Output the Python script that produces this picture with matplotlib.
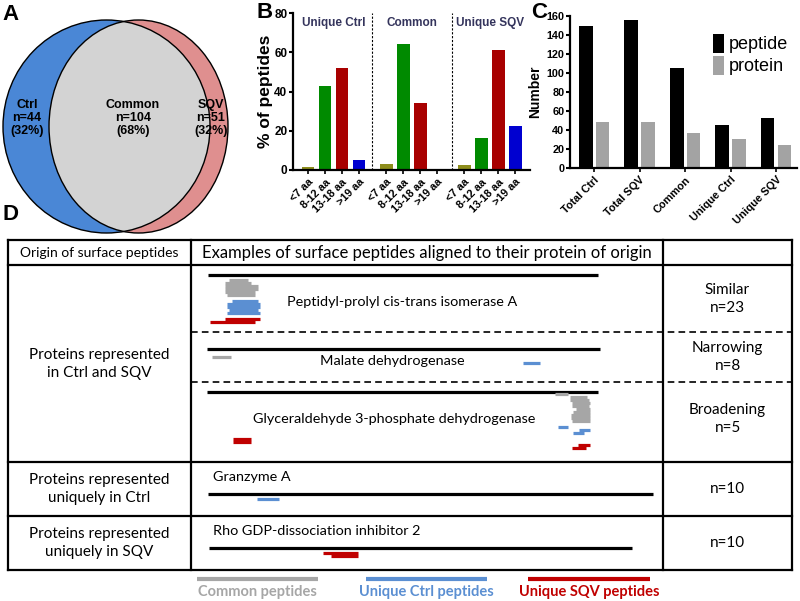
import matplotlib
matplotlib.use("Agg")
import matplotlib.pyplot as plt
from matplotlib.patches import Ellipse

plt.rcParams["font.family"] = ["Liberation Sans", "DejaVu Sans"]

W, H = 800, 601

# ---- panel A: Venn of proteins
venn_names = ["Ctrl", "Common", "SQV"]
venn_n = [44, 104, 51]
venn_pct = [32, 68, 32]

# ---- panel B: peptide length distribution (% of peptides)
len_classes = ["<7 aa", "8-12 aa", "13-18 aa", ">19 aa"]
b_groups = ["Unique Ctrl", "Common", "Unique SQV"]
pct_unique_ctrl = [1.7, 42.9, 52.2, 5.1]
pct_common = [2.9, 64.1, 34.3, 0.0]
pct_unique_sqv = [2.5, 16.5, 61.3, 22.4]

# ---- panel C: counts
c_categories = ["Total Ctrl", "Total SQV", "Common", "Unique Ctrl", "Unique SQV"]
n_peptide = [149, 156, 105, 45, 52]
n_protein = [48, 48, 37, 30, 24]

# ---- panel D: peptides aligned on proteins (start, end residue, stack row)
proteins = ["Peptidyl-prolyl cis-trans isomerase A", "Malate dehydrogenase",
            "Glyceraldehyde 3-phosphate dehydrogenase", "Granzyme A",
            "Rho GDP-dissociation inhibitor 2"]
protein_len = [165, 338, 335, 262, 201]
pep_ppia = [("common", 9, 17, 0), ("common", 7, 18, 1), ("common", 7, 21, 2),
            ("common", 7, 21, 3), ("common", 7, 20, 4), ("common", 8, 20, 5),
            ("ctrl", 10, 21, 7), ("ctrl", 8, 22, 8), ("ctrl", 8, 22, 9),
            ("ctrl", 9, 21, 10), ("ctrl", 8, 22, 11),
            ("sqv", 7, 22, 13), ("sqv", 1, 20, 14)]
pep_mdh = [("common", 4, 21, 1), ("ctrl", 272, 286, 3)]
pep_gapdh = [("common", 298, 309, -1), ("common", 311, 326, 0), ("common", 311, 327, 1),
             ("common", 313, 328, 2), ("common", 313, 327, 3), ("common", 316, 328, 4),
             ("common", 314, 328, 5), ("common", 312, 328, 6), ("common", 312, 328, 7),
             ("common", 313, 328, 8),
             ("ctrl", 301, 309, 10), ("ctrl", 319, 328, 11), ("ctrl", 314, 323, 12),
             ("sqv", 22, 38, 14), ("sqv", 22, 38, 15),
             ("sqv", 318, 328, 16), ("sqv", 313, 325, 17)]
pep_gzma = [("ctrl", 29, 42, 0)]
pep_gdi2 = [("sqv", 54, 71, 0), ("sqv", 58, 71, 1)]
peptides = [pep_ppia, pep_mdh, pep_gapdh, pep_gzma, pep_gdi2]
pep_colors = {"common": "#a6a6a6", "ctrl": "#5b8fd2", "sqv": "#c00000"}


def fig_rect(x0, y0, x1, y1):
    # pixel box (top-left origin) -> figure fraction
    return [x0 / W, 1 - y1 / H, (x1 - x0) / W, (y1 - y0) / H]


fig = plt.figure(figsize=(W / 100, H / 100), dpi=100)

# background axes in pixel coordinates, for A and D
bg = fig.add_axes([0, 0, 1, 1])
bg.set_xlim(0, W)
bg.set_ylim(H, 0)
bg.axis("off")

for lab, x, y in [("A", 2, 14), ("B", 257, 13), ("C", 531, 12), ("D", 2, 214)]:
    bg.text(x, y, lab, fontsize=16, fontweight="bold", va="center", ha="left")

# ---- A
blue = Ellipse((106.5, 126.5), 207, 213, facecolor="#4a87d6", edgecolor="none")
pink = Ellipse((138.5, 126.5), 179, 213, facecolor="#df8f8f", edgecolor="none")
bg.add_patch(blue)
bg.add_patch(pink)
inter = Ellipse((138.5, 126.5), 179, 213, facecolor="#d3d3d3", edgecolor="none")
bg.add_patch(inter)
inter.set_clip_path(blue)
for e in [Ellipse((106.5, 126.5), 207, 213), Ellipse((138.5, 126.5), 179, 213)]:
    e.set_facecolor("none")
    e.set_edgecolor("black")
    e.set_linewidth(1.0)
    bg.add_patch(e)
for name, n, p, x in zip(venn_names, venn_n, venn_pct, [27, 133, 211]):
    bg.text(x, 118, f"{name}\nn={n}\n({p}%)", ha="center", va="center",
            fontsize=9, fontweight="bold", linespacing=1.1)

# ---- B
axb = fig.add_axes(fig_rect(293, 13.3, 530, 170))
axb.patch.set_alpha(0)
b_colors = ["#8e8e1c", "#008a00", "#a80000", "#0000d0"]
starts = [0, 4.6, 9.2]
series = [pct_unique_ctrl, pct_common, pct_unique_sqv]
ticks, tlabels = [], []
for s, vals in zip(starts, series):
    xs = [s + i for i in range(len(vals))]
    axb.bar(xs, vals, width=0.76, color=b_colors)
    ticks += xs
    tlabels += len_classes
for xd in [3.75, 8.45]:
    axb.axvline(xd, color="black", ls=(0, (2, 1.5)), lw=0.8)
for s, g in zip(starts, b_groups):
    axb.text(s + 1.5, 75, g, ha="center", va="center", fontsize=8.5,
             fontweight="bold", color="#34345c")
axb.set_xlim(-0.88, 13.06)
axb.set_ylim(0, 80)
axb.set_yticks([0, 20, 40, 60, 80])
axb.set_xticks(ticks)
axb.set_xticklabels(tlabels, rotation=45, ha="right", rotation_mode="anchor",
                    fontsize=7.8, fontweight="bold")
for t in axb.get_yticklabels():
    t.set_fontweight("bold")
axb.tick_params(axis="y", labelsize=8.5, width=1.5, length=3, pad=1)
axb.tick_params(axis="x", width=1.2, length=3, pad=2)
axb.set_ylabel("% of peptides", fontsize=12.5, fontweight="bold", labelpad=1)
for sp in ["top", "right"]:
    axb.spines[sp].set_visible(False)
for sp in ["left", "bottom"]:
    axb.spines[sp].set_linewidth(1.6)

# ---- C
axc = fig.add_axes(fig_rect(570, 15.7, 797, 167.7))
axc.patch.set_alpha(0)
xc = list(range(len(c_categories)))
bp = axc.bar([x - 0.185 for x in xc], n_peptide, width=0.30, color="black")
bq = axc.bar([x + 0.185 for x in xc], n_protein, width=0.30, color="#a3a3a3")
axc.set_xlim(-0.53, 4.46)
axc.set_ylim(0, 160)
axc.set_yticks(range(0, 161, 20))
axc.set_xticks(xc)
axc.set_xticklabels(c_categories, rotation=45, ha="right", rotation_mode="anchor",
                    fontsize=7.8, fontweight="bold")
for t in axc.get_yticklabels():
    t.set_fontweight("bold")
axc.tick_params(axis="y", labelsize=7.8, width=1.5, length=3, pad=1)
axc.tick_params(axis="x", width=1.2, length=3, pad=2)
axc.set_ylabel("Number", fontsize=10, fontweight="bold", labelpad=3)
for sp in ["top", "right"]:
    axc.spines[sp].set_visible(False)
for sp in ["left", "bottom"]:
    axc.spines[sp].set_linewidth(1.6)
axc.legend([bp, bq], ["peptide", "protein"], loc="upper left",
           bbox_to_anchor=(713 / W, 1 - 34 / H), bbox_transform=fig.transFigure,
           frameon=False, fontsize=13, handlelength=0.62, handleheight=1.2,
           handletextpad=0.25, labelspacing=0.15, borderpad=0, borderaxespad=0)

# ---- D table
tf = ["Lato", "DejaVu Sans"]
lw_t = 1.6
L, R, C1, C2 = 8, 792, 191, 663
rows_y = [240, 265, 462, 516, 570]
for y in rows_y:
    bg.plot([L, R], [y, y], color="black", lw=lw_t, solid_capstyle="projecting")
for x in [L, C1, C2, R]:
    bg.plot([x, x], [rows_y[0], rows_y[-1]], color="black", lw=lw_t,
            solid_capstyle="projecting")
for y in [332, 382]:
    bg.plot([C1, R], [y, y], color="black", lw=1.2, ls=(0, (4, 2.5)))

bg.text((L + C1) / 2, 253, "Origin of surface peptides", ha="center", va="center",
        fontsize=10, family=tf)
bg.text((C1 + C2) / 2, 253, "Examples of surface peptides aligned to their protein of origin",
        ha="center", va="center", fontsize=12, family=tf)
for txt, y in [("Proteins represented\nin Ctrl and SQV", 364),
               ("Proteins represented\nuniquely in Ctrl", 489),
               ("Proteins represented\nuniquely in SQV", 543)]:
    bg.text((L + C1) / 2, y, txt, ha="center", va="center", fontsize=11,
            family=tf, linespacing=1.3)
for txt, y in [("Similar\nn=23", 299), ("Narrowing\nn=8", 357),
               ("Broadening\nn=5", 419), ("n=10", 489), ("n=10", 543)]:
    bg.text((C2 + R) / 2, y, txt, ha="center", va="center", fontsize=11,
            family=tf, linespacing=1.45)

# protein lines: x0, x1, y, and label position
line_x0 = [208, 207, 207, 208, 209]
line_x1 = [598, 600, 598, 653, 632]
line_y = [275, 349, 392, 494, 548]
name_xy = [(287, 302), (320, 361), (253, 419), (213, 477), (213, 531)]
for i, name in enumerate(proteins):
    x0, x1, y = line_x0[i], line_x1[i], line_y[i]
    bg.plot([x0, x1], [y, y], color="black", lw=2.3, solid_capstyle="butt")
    bg.text(name_xy[i][0], name_xy[i][1], name, ha="left", va="center",
            fontsize=10.4, family=tf)
    scale = (x1 - x0) / protein_len[i]
    base = y + 5
    for kind, s, e, r in peptides[i]:
        yy = base + 3 * r
        bg.plot([x0 + s * scale, x0 + e * scale], [yy, yy],
                color=pep_colors[kind], lw=2.3, solid_capstyle="butt")

# legend under table
for kind, txt, x0, x1 in [("common", "Common peptides", 197, 318),
                          ("ctrl", "Unique Ctrl peptides", 366, 487),
                          ("sqv", "Unique SQV peptides", 528, 650)]:
    bg.plot([x0, x1], [579, 579], color=pep_colors[kind], lw=3, solid_capstyle="butt")
    bg.text((x0 + x1) / 2, 592, txt, ha="center", va="center", fontsize=10.5,
            fontweight="bold", color=pep_colors[kind], family=tf)

fig.savefig("out.png", dpi=100)
